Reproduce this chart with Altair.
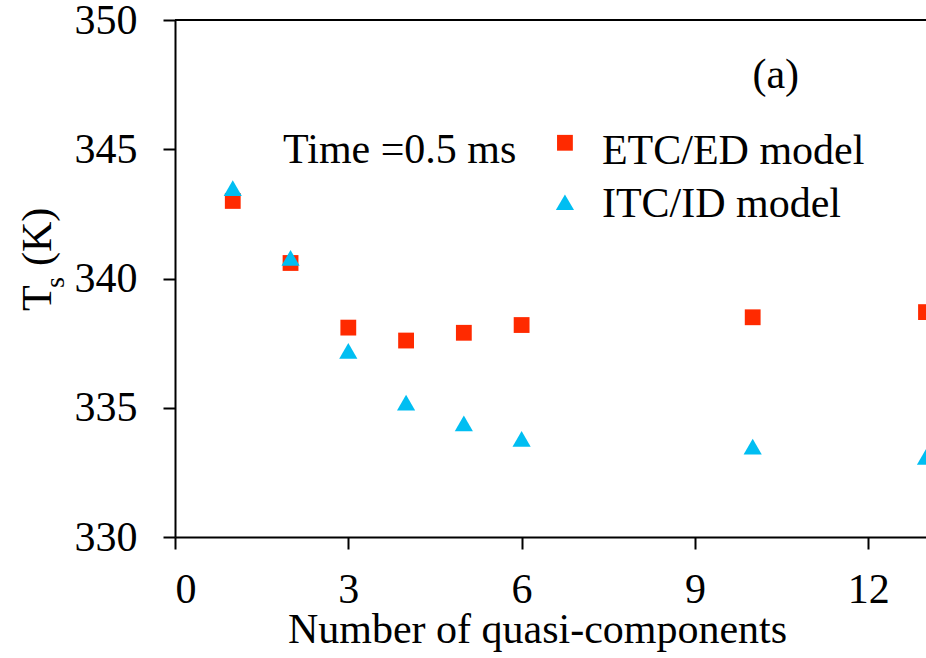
import altair as alt
import pandas as pd

# Data
n_components = [1, 2, 3, 4, 5, 6, 10, 13]
etc_ed = [343.0, 340.6, 338.1, 337.6, 337.9, 338.2, 338.5, 338.7]
itc_id = [343.5, 340.8, 337.2, 335.2, 334.4, 333.8, 333.5, 333.1]
x_ticks = [0, 3, 6, 9, 12]
y_ticks = [330, 335, 340, 345, 350]

RED = "#FF2A00"
BLUE = "#00BEF2"
FONT = "Liberation Serif"
FS = 42

df = pd.DataFrame({
    "n": n_components * 2,
    "Ts": etc_ed + itc_id,
    "model": ["ETC/ED model"] * len(n_components) + ["ITC/ID model"] * len(n_components),
})

xscale = alt.Scale(domain=[0, 13], nice=False, zero=False)
yscale = alt.Scale(domain=[330, 350], nice=False, zero=False)
models = ["ETC/ED model", "ITC/ID model"]
color_enc = alt.Color("model:N", scale=alt.Scale(domain=models, range=[RED, BLUE]), legend=None)
shape_enc = alt.Shape("model:N", scale=alt.Scale(domain=models, range=["square", "triangle-up"]), legend=None)
size_enc = alt.Size("model:N", scale=alt.Scale(domain=models, range=[250, 330]), legend=None)

base = alt.Chart(df)

points = base.mark_point(filled=True, opacity=1, clip=True).encode(
    x=alt.X("n:Q", scale=xscale,
            axis=alt.Axis(values=x_ticks, format="d", title="Number of quasi-components",
                          grid=False, labelFontSize=FS, labelFont=FONT, labelColor="black",
                          tickSize=12, tickWidth=2, tickColor="black",
                          domainWidth=2, domainColor="black", labelPadding=20,
                          titleFont=FONT, titleFontSize=FS, titleFontWeight="normal",
                          titleColor="black", titleX=362, titleY=105,
                          titleBaseline="alphabetic", titleAnchor="middle")),
    y=alt.Y("Ts:Q", scale=yscale,
            axis=alt.Axis(values=y_ticks, format="d", title=None, grid=False,
                          labelFontSize=FS, labelFont=FONT, labelColor="black",
                          tickSize=12, tickWidth=2, tickColor="black",
                          domainWidth=2, domainColor="black", labelPadding=26)),
    color=color_enc, shape=shape_enc, size=size_enc,
)

top_line = base.mark_rule(color="black", strokeWidth=2).encode(y=alt.datum(350))

# Legend built from the same model names
leg_df = pd.DataFrame({
    "model": models,
    "lx": [6.75, 6.75],
    "ly": [345.25, 342.95],
    "tx": [7.39, 7.39],
    "ty": [344.95, 342.9],
})
leg_pts = alt.Chart(leg_df).mark_point(filled=True, opacity=1).encode(
    x=alt.X("lx:Q", scale=xscale), y=alt.Y("ly:Q", scale=yscale),
    color=color_enc, shape=shape_enc, size=size_enc,
)
leg_txt = alt.Chart(leg_df).mark_text(align="left", baseline="middle", font=FONT,
                                      fontSize=FS, color="black").encode(
    x=alt.X("tx:Q", scale=xscale), y=alt.Y("ty:Q", scale=yscale), text="model:N")

ann_df = pd.DataFrame({"x": [1.87, 10.40], "y": [344.97, 347.87],
                       "label": ["Time =0.5 ms", "(a)"]})
ann_left = alt.Chart(ann_df.iloc[[0]]).mark_text(align="left", baseline="middle", font=FONT,
                                                 fontSize=FS, color="black").encode(
    x=alt.X("x:Q", scale=xscale), y=alt.Y("y:Q", scale=yscale), text="label:N")
ann_a = alt.Chart(ann_df.iloc[[1]]).mark_text(align="center", baseline="middle", font=FONT,
                                              fontSize=FS, color="black").encode(
    x=alt.X("x:Q", scale=xscale), y=alt.Y("y:Q", scale=yscale), text="label:N")

# Y-axis title: T with subscript s, then (K)
ytitle_T = alt.Chart(pd.DataFrame({"t": ["T"]})).mark_text(
    align="left", baseline="middle", angle=270, font=FONT, fontSize=FS, color="black"
).encode(x=alt.value(-137), y=alt.value(291), text="t:N")
ytitle_s = alt.Chart(pd.DataFrame({"t": ["s"]})).mark_text(
    align="left", baseline="middle", angle=270, font=FONT, fontSize=28, color="black"
).encode(x=alt.value(-119), y=alt.value(268), text="t:N")
ytitle_K = alt.Chart(pd.DataFrame({"t": ["(K)"]})).mark_text(
    align="left", baseline="middle", angle=270, font=FONT, fontSize=FS, color="black"
).encode(x=alt.value(-137), y=alt.value(246), text="t:N")

chart = alt.layer(
    top_line, points, leg_pts, leg_txt, ann_left, ann_a, ytitle_T, ytitle_s, ytitle_K
).properties(
    width=751, height=517,
    padding={"left": 175, "top": 20, "right": 0, "bottom": 121},
    autosize=alt.AutoSizeParams(type="none"),
    background="white",
).configure_view(stroke=None)

chart.save("out.html", embed_options={"renderer": "svg", "actions": False})
